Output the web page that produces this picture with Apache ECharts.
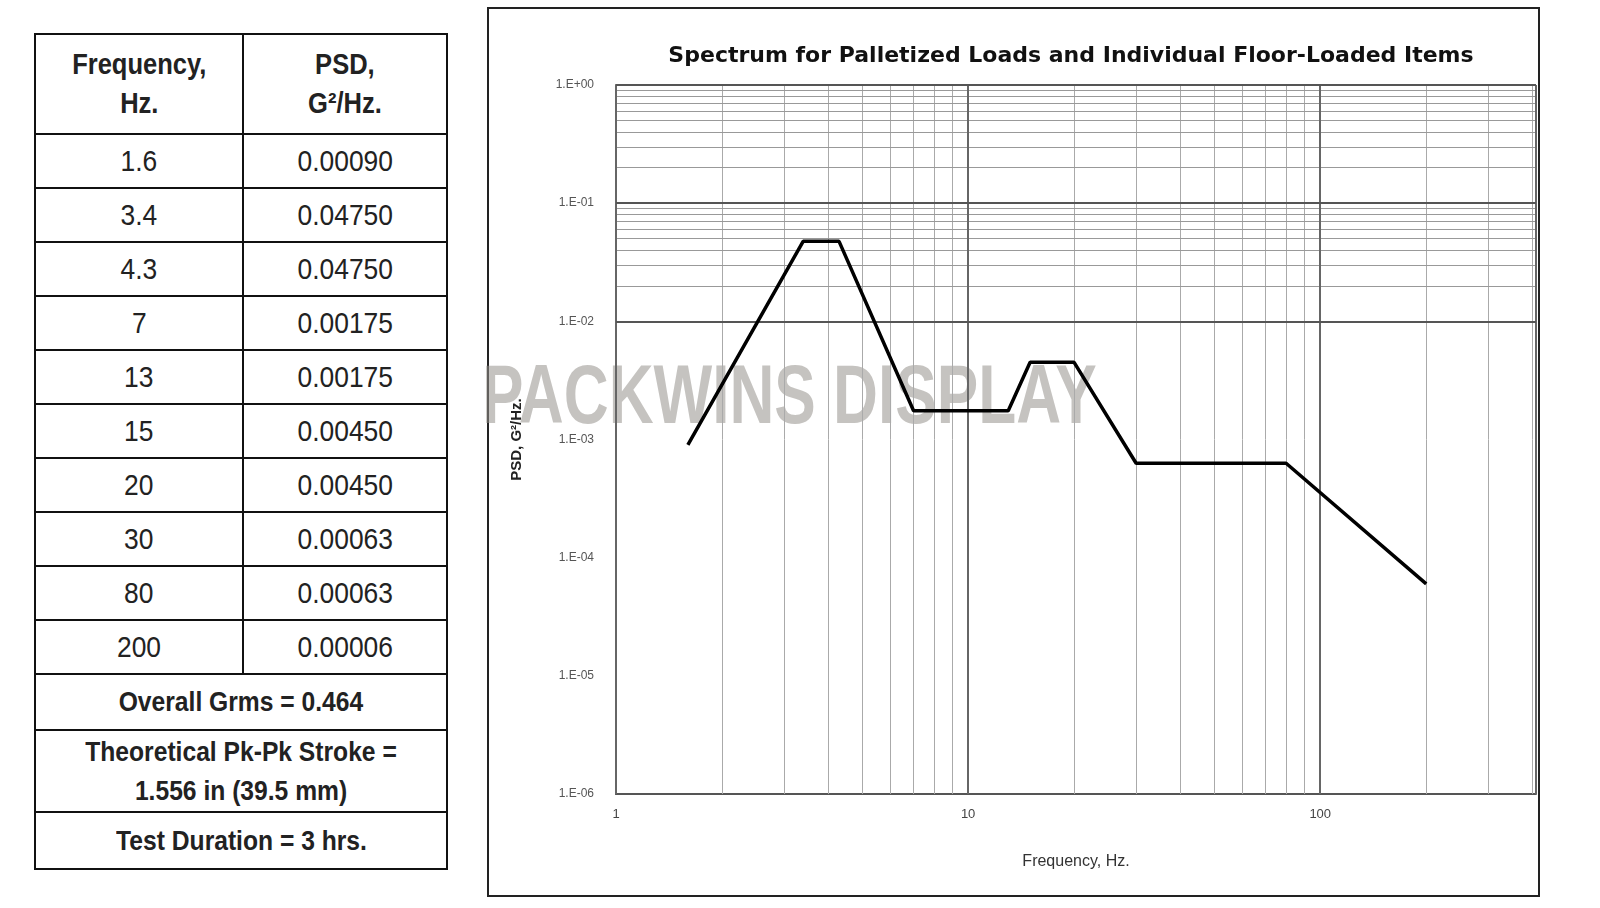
<!DOCTYPE html>
<html><head><meta charset="utf-8">
<script src="https://cdn.jsdelivr.net/npm/echarts@6/dist/echarts.min.js"></script>
<style>
body{margin:0;width:1600px;height:908px;background:#fff;position:relative;font-family:"Liberation Sans",Arial,sans-serif;overflow:hidden}
#tbl{position:absolute;left:34px;top:33px;border-collapse:collapse;width:414px}
#tbl td{border:2px solid #111;text-align:center;font-size:30px;color:#222;padding:0}
#tbl .h{font-weight:bold;font-size:29px;line-height:39px;height:98px}
#tbl .r{height:52px}
#tbl .b{font-weight:bold;font-size:28px}
#tbl span{display:inline-block;transform:scaleX(0.88)}
#box{position:absolute;left:487px;top:7px;width:1049px;height:886px;border:2px solid #222}
#c{position:absolute;left:0;top:0;width:1600px;height:908px}
</style></head><body>
<table id="tbl"></table>
<div id="box"></div>
<div id="c"></div>
<script>
const freqs=[1.6,3.4,4.3,7,13,15,20,30,80,200];
const psdText=["0.00090","0.04750","0.04750","0.00175","0.00175","0.00450","0.00450","0.00063","0.00063","0.00006"];
const psd=[0.0009,0.0475,0.0475,0.00175,0.00175,0.0045,0.0045,0.00063,0.00063,0.00006];
const yTicks=["1.E-06","1.E-05","1.E-04","1.E-03","1.E-02","1.E-01","1.E+00"];
const footer=["Overall Grms = 0.464","Theoretical Pk-Pk Stroke =<br>1.556 in (39.5 mm)","Test Duration = 3 hrs."];

const s=t=>`<span>${t}</span>`;
let h=`<tr><td class="h" style="width:206px">${s('Frequency,<br>Hz.')}</td><td class="h">${s('PSD,<br>G²/Hz.')}</td></tr>`;
freqs.forEach((f,i)=>{h+=`<tr><td class="r">${s(f)}</td><td class="r">${s(psdText[i])}</td></tr>`});
h+=`<tr><td colspan="2" class="b" style="height:54px">${s(footer[0])}</td></tr>`;
h+=`<tr><td colspan="2" class="b" style="height:80px;line-height:39px">${s(footer[1])}</td></tr>`;
h+=`<tr><td colspan="2" class="b" style="height:55px">${s(footer[2])}</td></tr>`;
document.getElementById('tbl').innerHTML=h;

const xMinor=[],xMajor=[1,10,100];
for(const d of [1,10,100]) for(let k=2;k<=9;k++){ if(d*k<=410) xMinor.push(d*k); }
const yMinor=[],yMajor=[];
for(let e=-6;e<0;e++){ yMajor.push(Math.pow(10,e)); for(let k=2;k<=9;k++) yMinor.push(k*Math.pow(10,e)); }
yMajor.push(1);

const ch=echarts.init(document.getElementById('c'));
const ml=(arr,axis,w,c)=>arr.map(v=>({[axis]:v,lineStyle:{color:c,width:w,type:'solid'}}));
ch.setOption({
  animation:false,
  title:{text:'Spectrum for Palletized Loads and Individual Floor-Loaded Items',left:1066,top:40,textAlign:'center',
    textStyle:{fontSize:22,fontWeight:'bold',color:'#111',fontFamily:'DejaVu Sans, sans-serif'}},
  graphic:[{type:'text',left:482,top:358,scaleX:0.74,silent:true,style:{text:'PACKWINS DISPLAY',fontSize:84,fontWeight:'bold',fill:'rgba(150,145,140,0.55)',fontFamily:'Liberation Sans, sans-serif'}}],
  grid:{left:616,top:85,right:64,bottom:114},
  xAxis:{type:'log',logBase:10,min:1,max:410,name:'Frequency, Hz.',nameLocation:'middle',nameGap:60,
    nameTextStyle:{fontSize:16,color:'#333'},
    axisLine:{show:true,lineStyle:{color:'#555',width:2}},axisTick:{show:false},splitLine:{show:false},
    axisLabel:{fontSize:13,color:'#444',margin:14,formatter:v=>(v===1||v===10||v===100)?String(v):''}},
  yAxis:{type:'log',logBase:10,min:1e-6,max:1,name:'PSD, G²/Hz.',nameLocation:'middle',nameGap:92,
    nameTextStyle:{fontSize:15,color:'#222',fontWeight:'bold'},
    axisLine:{show:true,lineStyle:{color:'#555',width:2}},axisTick:{show:false},splitLine:{show:false},
    axisLabel:{fontSize:12,color:'#555',margin:22,formatter:v=>yTicks[Math.round(Math.log10(v))+6]}},
  series:[{type:'line',data:freqs.map((f,i)=>[f,psd[i]]),symbol:'none',
    lineStyle:{color:'#000',width:3.5},z:5,
    markLine:{silent:true,symbol:'none',label:{show:false},animation:false,
      data:[...ml(xMinor,'xAxis',1,'#aaa'),...ml(yMinor,'yAxis',1,'#999'),
            ...ml(xMajor.concat([410]),'xAxis',2,'#666'),...ml(yMajor,'yAxis',2,'#555')]}}]
});
</script></body></html>
